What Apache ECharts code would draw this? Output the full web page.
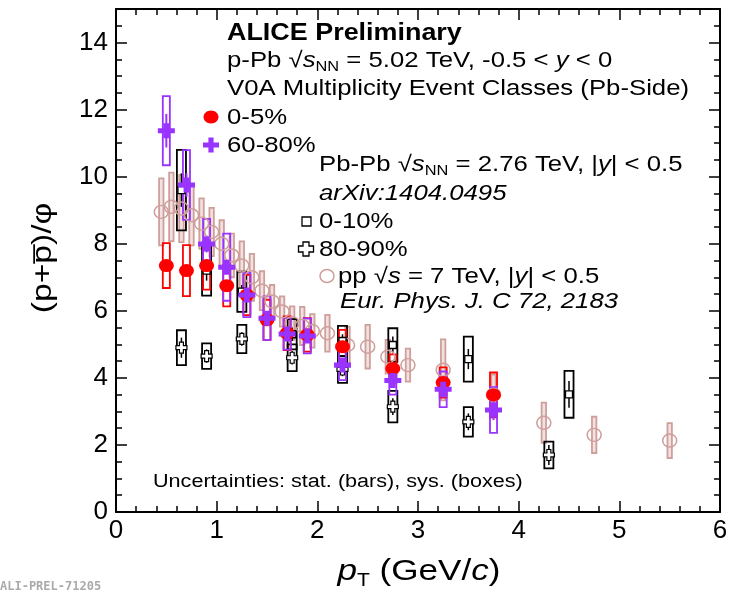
<!DOCTYPE html>
<html>
<head>
<meta charset="utf-8">
<script src="https://cdn.jsdelivr.net/npm/echarts@6/dist/echarts.min.js"></script>
<style>html,body{margin:0;padding:0;background:#fff}#c{width:737px;height:596px}</style>
</head>
<body>
<div id="c"></div>
<script>
// ---------- data ----------
const xTicks = [0, 1, 2, 3, 4, 5, 6];
const yTicks = [0, 2, 4, 6, 8, 10, 12, 14];

// p-Pb 0-5%
const redX = [0.5, 0.7, 0.9, 1.1, 1.3, 1.5, 1.7, 1.9, 2.25, 2.75, 3.25, 3.75];
const redY = [7.35, 7.2, 7.35, 6.75, 6.47, 5.73, 5.33, 5.28, 4.93, 4.28, 3.86, 3.49];
const redSys = [0.67, 0.76, 0.72, 0.62, 0.6, 0.6, 0.5, 0.5, 0.5, 0.42, 0.45, 0.67];
const redStat = [0.12, 0.12, 0.12, 0.1, 0.1, 0.1, 0.1, 0.1, 0.1, 0.12, 0.15, 0.2];

// p-Pb 60-80%
const purX = [0.5, 0.7, 0.9, 1.1, 1.3, 1.5, 1.7, 1.9, 2.25, 2.75, 3.25, 3.75];
const purY = [11.37, 9.75, 7.99, 7.30, 6.47, 5.78, 5.31, 5.25, 4.38, 3.92, 3.66, 3.04];
const purSys = [1.03, 1.04, 0.75, 1.0, 0.66, 0.65, 0.47, 0.52, 0.45, 0.42, 0.53, 0.68];
const purStat = [0.5, 0.35, 0.25, 0.2, 0.2, 0.15, 0.15, 0.15, 0.15, 0.2, 0.25, 0.3];

// Pb-Pb 0-10%
const pb010X = [0.65, 0.9, 1.25, 1.75, 2.25, 2.75, 3.5, 4.5];
const pb010Y = [9.6, 7.2, 6.57, 5.3, 5.1, 4.98, 4.56, 3.51];
const pb010Sys = [1.2, 0.75, 0.6, 0.45, 0.45, 0.5, 0.67, 0.7];
const pb010Stat = [0.5, 0.3, 0.2, 0.2, 0.2, 0.25, 0.3, 0.4];

// Pb-Pb 80-90%
const pb8090X = [0.65, 0.9, 1.25, 1.75, 2.25, 2.75, 3.5, 4.3];
const pb8090Y = [4.9, 4.65, 5.16, 4.6, 4.25, 3.14, 2.69, 1.70];
const pb8090Sys = [0.52, 0.38, 0.42, 0.4, 0.4, 0.47, 0.44, 0.4];
const pb8090Stat = [0.3, 0.2, 0.2, 0.2, 0.2, 0.25, 0.25, 0.3];

// pp 7 TeV
const ppX = [0.45, 0.55, 0.65, 0.75, 0.85, 0.95, 1.05, 1.15, 1.25, 1.35, 1.45, 1.55, 1.65, 1.75, 1.85, 1.95, 2.1, 2.3, 2.5, 2.7, 2.9, 3.25, 3.75, 4.25, 4.75, 5.5];
const ppY = [8.95, 9.1, 9.05, 8.85, 8.6, 8.35, 8.0, 7.65, 7.35, 7.0, 6.6, 6.28, 5.98, 5.63, 5.55, 5.4, 5.33, 4.98, 4.93, 4.63, 4.38, 4.24, 3.5, 2.66, 2.3, 2.13];
const ppSys = [1.0, 1.02, 1.0, 0.9, 0.75, 0.72, 0.7, 0.65, 0.72, 0.7, 0.58, 0.49, 0.45, 0.5, 0.57, 0.5, 0.55, 0.55, 0.65, 0.5, 0.49, 0.91, 0.6, 0.6, 0.54, 0.52];

// ---------- style ----------
const FONT = '"Liberation Sans", Arial, Helvetica, sans-serif';
const RED = '#ff0000', PUR = '#9933ff', BLK = '#000000', PINK = '#cf9f9b';
const SX = 1.17; // horizontal stretch of the original picture's text

function zip(xs, ys, s) { return xs.map((x, i) => [x, ys[i], s[i]]); }

function boxSeries(xs, ys, sys, halfW, color, lw, fill) {
  return {
    type: 'custom', coordinateSystem: 'cartesian2d', silent: true,
    data: zip(xs, ys, sys), encode: { x: 0, y: 1 },
    renderItem: function (params, api) {
      const x = api.value(0), y = api.value(1), s = api.value(2);
      const p1 = api.coord([x - halfW, y + s]);
      const p2 = api.coord([x + halfW, y - s]);
      return {
        type: 'rect',
        shape: { x: p1[0], y: p1[1], width: p2[0] - p1[0], height: p2[1] - p1[1] },
        style: { fill: fill || 'none', stroke: color, lineWidth: lw }
      };
    }
  };
}
function statSeries(xs, ys, st, color, lw) {
  return {
    type: 'custom', coordinateSystem: 'cartesian2d', silent: true,
    data: zip(xs, ys, st), encode: { x: 0, y: 1 },
    renderItem: function (params, api) {
      const x = api.value(0), y = api.value(1), s = api.value(2);
      const a = api.coord([x, y + s]);
      const b = api.coord([x, y - s]);
      return { type: 'line', shape: { x1: a[0], y1: a[1], x2: b[0], y2: b[1] }, style: { stroke: color, lineWidth: lw } };
    }
  };
}
function scatter(xs, ys, symbol, size, fill, stroke, bw) {
  return {
    type: 'scatter', silent: true, symbol: symbol, symbolSize: size,
    data: xs.map((x, i) => [x, ys[i]]),
    itemStyle: { color: fill, borderColor: stroke, borderWidth: bw, opacity: 1 }
  };
}
const FULLCROSS = 'path://M3.3,0H6.7V3.3H10V6.7H6.7V10H3.3V6.7H0V3.3H3.3Z';
const OPENCROSS = 'path://M3.2,0H6.8V3.2H10V6.8H6.8V10H3.2V6.8H0V3.2H3.2Z';

const series = [
  boxSeries(ppX, ppY, ppSys, 0.022, PINK, 1.8, 'rgba(207,159,155,0.3)'),
  scatter(ppX, ppY, 'circle', [14, 13], 'none', PINK, 1.5),

  boxSeries(pb010X, pb010Y, pb010Sys, 0.045, BLK, 1.8),
  statSeries(pb010X, pb010Y, pb010Stat, BLK, 1.5),
  scatter(pb010X, pb010Y, 'rect', 7, '#ffffff', BLK, 1.3),

  boxSeries(pb8090X, pb8090Y, pb8090Sys, 0.045, BLK, 1.8),
  statSeries(pb8090X, pb8090Y, pb8090Stat, BLK, 1.5),
  scatter(pb8090X, pb8090Y, OPENCROSS, 11, '#ffffff', BLK, 1.2),

  boxSeries(redX, redY, redSys, 0.035, RED, 1.8),
  statSeries(redX, redY, redStat, RED, 2),
  scatter(redX, redY, 'circle', [15, 13], RED, RED, 0),

  boxSeries(purX, purY, purSys, 0.035, PUR, 1.8),
  statSeries(purX, purY, purStat, PUR, 2),
  scatter(purX, purY, FULLCROSS, [17, 15], PUR, PUR, 0)
];

// ---------- axes ----------
const axLine = { show: true, lineStyle: { color: '#000', width: 2 } };
function xAx(pos, labels) {
  return {
    type: 'value', min: xTicks[0], max: xTicks[xTicks.length - 1], interval: 1, position: pos,
    axisLine: Object.assign({ onZero: false }, axLine),
    axisTick: { show: true, inside: true, length: 11, lineStyle: { color: '#000', width: 1.5 } },
    minorTick: { show: true, splitNumber: 5, length: 6, lineStyle: { color: '#000', width: 1.5 } },
    splitLine: { show: false }, minorSplitLine: { show: false },
    axisLabel: { show: labels, fontSize: 26, color: '#000', fontFamily: FONT, margin: 6 }
  };
}
function yAx(pos, labels) {
  return {
    type: 'value', min: yTicks[0], max: 15, interval: 2, position: pos,
    axisLine: Object.assign({ onZero: false }, axLine),
    axisTick: { show: true, inside: true, length: 11, lineStyle: { color: '#000', width: 1.5 } },
    minorTick: { show: true, splitNumber: 4, length: 6, lineStyle: { color: '#000', width: 1.5 } },
    splitLine: { show: false }, minorSplitLine: { show: false },
    axisLabel: {
      show: labels, fontSize: 26, color: '#000', fontFamily: FONT, margin: 8, showMaxLabel: false,
      formatter: v => (yTicks.indexOf(v) >= 0 ? String(v) : '')
    }
  };
}

// ---------- texts / legend ----------
function txt(x, y, t, size, extra, sx) {
  return {
    type: 'text', x: x, y: y, scaleX: sx || SX, silent: true,
    style: Object.assign({ text: t, fontSize: size, fontFamily: FONT, fill: '#000', verticalAlign: 'middle', align: 'left' }, extra || {})
  };
}
function richTxt(x, y, t, size, rich, extra) {
  return {
    type: 'text', x: x, y: y, scaleX: SX, silent: true,
    style: Object.assign({ text: t, fontSize: size, fontFamily: FONT, fill: '#000', verticalAlign: 'middle', align: 'left', rich: rich }, extra || {})
  };
}
function crossPts(cx, cy, ax, ay, t) {
  return [[cx - t, cy - ay], [cx + t, cy - ay], [cx + t, cy - t], [cx + ax, cy - t], [cx + ax, cy + t], [cx + t, cy + t],
          [cx + t, cy + ay], [cx - t, cy + ay], [cx - t, cy + t], [cx - ax, cy + t], [cx - ax, cy - t], [cx - t, cy - t]];
}
const FS = 22;
const sqrtRich = {
  i: { fontSize: FS, fontStyle: 'italic', fontFamily: FONT },
  sub: { fontSize: 14, fontFamily: FONT, verticalAlign: 'bottom', padding: [12, 0, 0, 0] },
  n: { fontSize: FS, fontFamily: FONT }
};

const graphic = [
  txt(227, 34, 'ALICE Preliminary', 23, { fontWeight: 'bold' }),
  richTxt(227, 61, '{n|p-Pb \u221A}{i|s}{sub|NN}{n| = 5.02 TeV, -0.5 < }{i|y}{n| < 0}', FS, sqrtRich),
  txt(227, 89, 'V0A Multiplicity Event Classes (Pb-Side)', FS),
  { type: 'ellipse', shape: { cx: 211, cy: 117, rx: 7.5, ry: 6.5 }, style: { fill: RED }, silent: true },
  txt(227, 118, '0-5%', FS),
  { type: 'polygon', shape: { points: crossPts(211, 145, 8, 7.5, 2.6) }, style: { fill: PUR }, silent: true },
  txt(227, 146, '60-80%', FS),
  richTxt(319, 165, '{n|Pb-Pb \u221A}{i|s}{sub|NN}{n| = 2.76 TeV, |}{i|y}{n|| < 0.5}', FS, sqrtRich),
  txt(319, 194, 'arXiv:1404.0495', FS, { fontStyle: 'italic' }),
  { type: 'rect', shape: { x: 302, y: 217, width: 9, height: 9 }, style: { fill: '#fff', stroke: BLK, lineWidth: 1.3 }, silent: true },
  txt(319, 222, '0-10%', FS),
  { type: 'polygon', shape: { points: crossPts(306, 249, 7.5, 7, 3) }, style: { fill: '#fff', stroke: BLK, lineWidth: 1.3 }, silent: true },
  txt(319, 250, '80-90%', FS),
  { type: 'ellipse', shape: { cx: 327, cy: 276, rx: 7, ry: 6.5 }, style: { fill: 'none', stroke: PINK, lineWidth: 1.5 }, silent: true },
  richTxt(338, 277, '{n|pp \u221A}{i|s}{n| = 7 TeV, |}{i|y}{n|| < 0.5}', FS, sqrtRich),
  txt(340, 302, 'Eur. Phys. J. C 72, 2183', FS, { fontStyle: 'italic' }),
  txt(153, 482, 'Uncertainties: stat. (bars), sys. (boxes)', 18, {}, 1.2),
  // axis titles
  {
    type: 'text', x: 43, y: 258, rotation: Math.PI / 2, scaleX: 1.2, silent: true,
    style: { text: '(p+p\u0305)/\u03C6', fontSize: 28, fontFamily: FONT, fill: '#000', align: 'center', verticalAlign: 'middle' }
  },
  richTxt(419, 572, '{i|p}{sub|T}{n| (GeV/}{i|c}{n|)}', 30, {
    i: { fontSize: 30, fontStyle: 'italic', fontFamily: FONT },
    sub: { fontSize: 18, fontFamily: FONT, verticalAlign: 'bottom', padding: [18, 0, 0, 0] },
    n: { fontSize: 30, fontFamily: FONT }
  }, { align: 'center' }),
  {
    type: 'text', x: 0, y: 587, silent: true,
    style: { text: 'ALI-PREL-71205', fontSize: 12, fill: '#aaaaaa', fontFamily: '"DejaVu Sans Mono", "Liberation Mono", monospace', fontWeight: 'bold', verticalAlign: 'middle', align: 'left' }
  }
];

const chart = echarts.init(document.getElementById('c'), null, { renderer: 'canvas' });
chart.setOption({
  animation: false,
  backgroundColor: '#ffffff',
  grid: { left: 116, right: 17, top: 9, bottom: 84, containLabel: false },
  xAxis: [xAx('bottom', true), xAx('top', false)],
  yAxis: [yAx('left', true), yAx('right', false)],
  series: series,
  graphic: graphic
});
</script>
</body>
</html>
